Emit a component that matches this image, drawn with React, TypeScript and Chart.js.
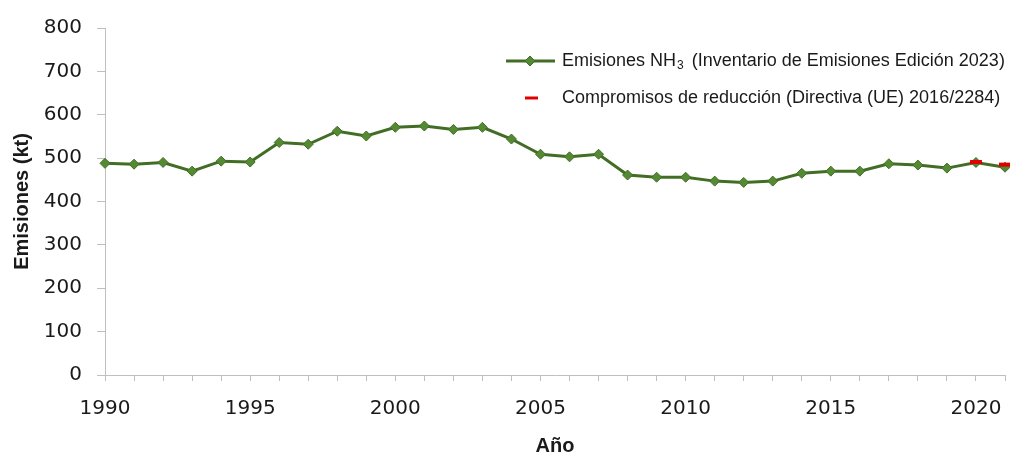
import React, { useEffect, useRef } from 'react';
import { Chart, registerables } from 'chart.js';

Chart.register(...registerables);

const years = [
  '1990', '1991', '1992', '1993', '1994', '1995', '1996', '1997', '1998', '1999',
  '2000', '2001', '2002', '2003', '2004', '2005', '2006', '2007', '2008', '2009',
  '2010', '2011', '2012', '2013', '2014', '2015', '2016', '2017', '2018', '2019',
  '2020', '2021',
];
const emissions = [
  488, 486, 490, 470, 493, 491, 536, 532, 562, 551,
  571, 574, 566, 571, 544, 509, 503, 509, 461, 456,
  456, 447, 444, 447, 465, 470, 470, 487, 484, 477,
  490, 479,
];
const commitmentYears = ['2020', '2021'];
const commitmentValues = [491, 485];
const yTicks = [0, 100, 200, 300, 400, 500, 600, 700, 800];
const labeledYears = ['1990', '1995', '2000', '2005', '2010', '2015', '2020'];

const LEGEND_MAIN_A = 'Emisiones NH';
const LEGEND_SUB = '3';
const LEGEND_MAIN_B = '  (Inventario de Emisiones Edición 2023)';
const LEGEND_RED = 'Compromisos de reducción (Directiva (UE) 2016/2284)';

const GREEN_LINE = '#426d25';
const GREEN_POINT = '#558a35';
const RED = '#e00000';
const AXIS = '#bfbfbf';
const TEXT = '#1a1a1a';

const PLOT_RIGHT = 1005;

// Keep the plot area ending at the same right edge as the reference.
const areaPlugin = {
  id: 'fixArea',
  afterLayout(chart: any) {
    const x = chart.scales.x;
    chart.chartArea.right = PLOT_RIGHT;
    chart.chartArea.width = PLOT_RIGHT - chart.chartArea.left;
    x.right = PLOT_RIGHT;
    x.width = PLOT_RIGHT - x.left;
    x.configure();
  },
};

const legendPlugin = {
  id: 'customLegend',
  afterDraw(chart: any) {
    const ctx = chart.ctx as CanvasRenderingContext2D;
    ctx.save();
    const textX = 562;
    const y1 = 61;
    const y2 = 98;
    // green line sample
    ctx.strokeStyle = GREEN_LINE;
    ctx.lineWidth = 3;
    ctx.beginPath();
    ctx.moveTo(506, y1);
    ctx.lineTo(555, y1);
    ctx.stroke();
    ctx.fillStyle = GREEN_POINT;
    ctx.strokeStyle = GREEN_LINE;
    ctx.lineWidth = 1;
    ctx.beginPath();
    ctx.moveTo(530, y1 - 5);
    ctx.lineTo(535, y1);
    ctx.lineTo(530, y1 + 5);
    ctx.lineTo(525, y1);
    ctx.closePath();
    ctx.fill();
    ctx.stroke();
    // red dash sample
    ctx.strokeStyle = RED;
    ctx.lineWidth = 3;
    ctx.beginPath();
    ctx.moveTo(525, y2);
    ctx.lineTo(538, y2);
    ctx.stroke();
    // texts
    ctx.fillStyle = TEXT;
    ctx.textBaseline = 'middle';
    ctx.textAlign = 'left';
    const main = '18px "Liberation Sans", Arial, sans-serif';
    const sub = '12px "Liberation Sans", Arial, sans-serif';
    ctx.font = main;
    ctx.fillText(LEGEND_MAIN_A, textX, y1);
    let x = textX + ctx.measureText(LEGEND_MAIN_A).width;
    ctx.font = sub;
    ctx.fillText(LEGEND_SUB, x + 1, y1 + 5);
    x += ctx.measureText(LEGEND_SUB).width + 1;
    ctx.font = main;
    ctx.fillText(LEGEND_MAIN_B, x - 2, y1);
    ctx.fillText(LEGEND_RED, textX, y2);
    ctx.restore();
  },
};

export default function App() {
  const canvasRef = useRef<HTMLCanvasElement | null>(null);

  useEffect(() => {
    document.body.style.margin = '0';
    const canvas = canvasRef.current;
    if (!canvas) return;
    const chart = new Chart(canvas, {
      type: 'line',
      data: {
        labels: years,
        datasets: [
          {
            label: 'Compromisos de reducción (Directiva (UE) 2016/2284)',
            data: commitmentYears.map((yr, i) => ({ x: yr, y: commitmentValues[i] })),
            showLine: false,
            pointStyle: 'line',
            pointRadius: 6,
            pointHoverRadius: 6,
            borderColor: RED,
            backgroundColor: RED,
            pointBorderWidth: 4,
            clip: false,
            order: 0,
          },
          {
            label: 'Emisiones NH3 (Inventario de Emisiones Edición 2023)',
            data: emissions,
            borderColor: GREEN_LINE,
            borderWidth: 3,
            pointStyle: 'rectRot',
            pointRadius: 5,
            pointHoverRadius: 5,
            pointBackgroundColor: GREEN_POINT,
            pointBorderColor: GREEN_LINE,
            pointBorderWidth: 1,
            tension: 0,
            clip: false,
            order: 1,
          },
        ],
      },
      options: {
        responsive: false,
        animation: false,
        events: [],
        layout: { padding: { top: 28, right: 5, left: 0, bottom: 0 } },
        plugins: {
          legend: { display: false },
          tooltip: { enabled: false },
        },
        scales: {
          x: {
            type: 'category',
            offset: false,
            afterFit: (s: any) => {
              s.height = 79;
              s.paddingLeft = 0;
              s.paddingRight = 0;
            },
            grid: {
              display: true,
              drawOnChartArea: false,
              drawTicks: true,
              tickLength: 6,
              color: AXIS,
            },
            border: { display: true, color: AXIS, width: 1 },
            ticks: {
              autoSkip: false,
              maxRotation: 0,
              padding: 16,
              color: TEXT,
              font: { family: '"DejaVu Sans", sans-serif', size: 20 },
              callback: (_v: any, i: number) => (labeledYears.includes(years[i]) ? years[i] : ''),
            },
            title: {
              display: true,
              text: 'Año',
              color: TEXT,
              padding: { top: 4, bottom: -4 },
              font: { family: '"Liberation Sans", Arial, sans-serif', size: 20, weight: 'bold' },
            },
          },
          y: {
            min: yTicks[0],
            max: yTicks[yTicks.length - 1],
            afterFit: (s: any) => { s.width = 105; },
            afterBuildTicks: (s: any) => { s.ticks = yTicks.map((v) => ({ value: v })); },
            grid: {
              display: true,
              drawOnChartArea: false,
              drawTicks: true,
              tickLength: 8,
              color: AXIS,
            },
            border: { display: true, color: AXIS, width: 1 },
            ticks: {
              padding: 15,
              color: TEXT,
              font: { family: '"DejaVu Sans", sans-serif', size: 20 },
            },
            title: {
              display: true,
              text: 'Emisiones (kt)',
              color: TEXT,
              padding: { top: 10, bottom: 4 },
              font: { family: '"Liberation Sans", Arial, sans-serif', size: 20, weight: 'bold' },
            },
          },
        },
      },
      plugins: [areaPlugin, legendPlugin],
    } as any);
    return () => chart.destroy();
  }, []);

  return (
    <div style={{ position: 'absolute', left: 0, top: 0, width: 1010, height: 454, background: '#ffffff' }}>
      <canvas ref={canvasRef} width={1010} height={454} style={{ display: 'block' }} />
    </div>
  );
}
